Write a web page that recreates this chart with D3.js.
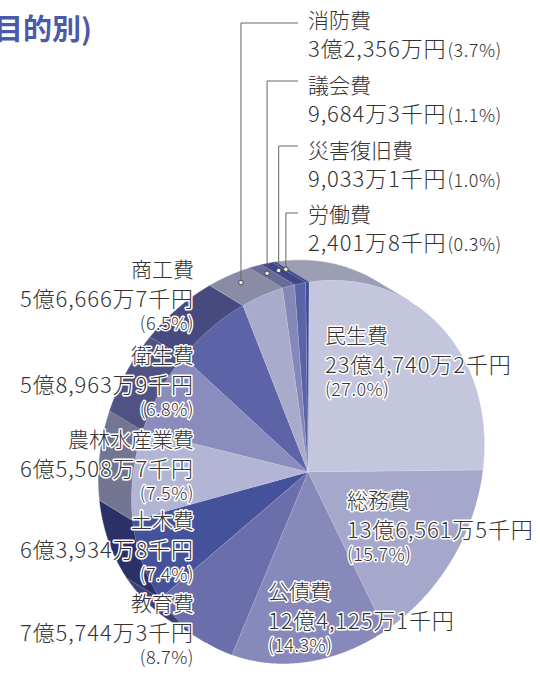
<!DOCTYPE html>
<html>
<head>
<meta charset="utf-8">
<script src="https://cdn.jsdelivr.net/npm/d3@7"></script>
<style>
  body { margin: 0; background: #fff; }
  text { font-family: "Noto Sans CJK JP", "Noto Sans", sans-serif; }
</style>
</head>
<body>
<div id="chart"></div>
<script>
const names = ["民生費", "総務費", "公債費", "教育費", "土木費", "農林水産業費", "衛生費", "商工費", "消防費", "議会費", "災害復旧費", "労働費"];
const amounts = ["23億4,740万2千円", "13億6,561万5千円", "12億4,125万1千円", "7億5,744万3千円", "6億3,934万8千円", "6億5,508万7千円", "5億8,963万9千円", "5億6,666万7千円", "3億2,356万円", "9,684万3千円", "9,033万1千円", "2,401万8千円"];
const shares = [27.0, 15.7, 14.3, 8.7, 7.4, 7.5, 6.8, 6.5, 3.7, 1.1, 1.0, 0.3];

let width = 540, height = 675;
// the disc is seen tilted: its face is an ellipse spanned by two axis vectors
let cx = 308, cy = 472,
    axA = [176.5, -26], // direction of 3 o'clock
    axB = [-1, 190],    // direction of 6 o'clock
    dx = -33, dy = -20; // depth of the disc, toward the back (upper left)

const faceColors = ["#c4c6dd", "#a5a8ca", "#8789bb", "#6a6eaa", "#44519b", "#b2b5d3", "#898cbd", "#5c63a6", "#a9abcb", "#8587b8", "#5a62a8", "#3d4a9a"];
const sideColors = ["#9c9eb4", "#7c7e9c", "#65678f", "#3c4072", "#2b3166", "#737591", "#4f5282", "#464a7f", "#8a8ca6", "#6a6c98", "#404687", "#34408c"];

// label layout: [mode, x, y of first baseline, leader y]
const layout = {
  "民生費": ["right", 325, 343],
  "総務費": ["right", 347, 508],
  "公債費": ["right", 268, 599],
  "教育費": ["left", 194, 611],
  "土木費": ["left", 194, 528],
  "農林水産業費": ["left", 194, 447],
  "衛生費": ["left", 194, 363],
  "商工費": ["left", 194, 277],
  "消防費": ["top", 308, 28, 23],
  "議会費": ["top", 308, 93, 81],
  "災害復旧費": ["top", 308, 158, 146],
  "労働費": ["top", 308, 222, 213]
};

const svg = d3.select("#chart")
  .append("svg")
  .attr("width", width)
  .attr("height", height);

let pie = d3.pie().sort(null).value(d => d.v).startAngle(0).endAngle(2 * Math.PI);
let data = names.map((n, i) => ({ name: n, amount: amounts[i], v: shares[i] }));
let arcs = pie(data);

let ex = a => cx + axA[0] * Math.sin(a) - axB[0] * Math.cos(a),
    ey = a => cy + axA[1] * Math.sin(a) - axB[1] * Math.cos(a);

// is the rim seen at this angle? (outward normal points toward the depth)
function rimVisible(a) {
  let tx = axA[0] * Math.cos(a) + axB[0] * Math.sin(a),
      ty = axA[1] * Math.cos(a) + axB[1] * Math.sin(a);
  let nx = ty, ny = -tx;
  if (nx * (ex(a) - cx) + ny * (ey(a) - cy) < 0) { nx = -nx; ny = -ny; }
  return nx * dx + ny * dy > 0;
}

function arcPoints(a0, a1) {
  let n = Math.max(2, Math.ceil((a1 - a0) / 0.005));
  return d3.range(n + 1).map(k => a0 + (a1 - a0) * k / n);
}

let line = d3.line();

function sidePath(a0, a1) {
  let pts = arcPoints(a0, a1).filter(rimVisible);
  if (pts.length < 2) return "";
  let front = pts.map(a => [ex(a), ey(a)]);
  let back = pts.slice().reverse().map(a => [ex(a) + dx, ey(a) + dy]);
  return line(front.concat(back)) + "Z";
}

// sides
svg.append("g")
  .selectAll("path")
  .data(arcs)
  .join("path")
  .attr("d", d => sidePath(d.startAngle, d.endAngle))
  .attr("fill", d => sideColors[d.index])
  .attr("stroke", d => sideColors[d.index])
  .attr("stroke-width", 0.5);

// edges between side facets
svg.append("g")
  .selectAll("line")
  .data(arcs.filter(d => rimVisible(d.startAngle)))
  .join("line")
  .attr("x1", d => ex(d.startAngle))
  .attr("y1", d => ey(d.startAngle))
  .attr("x2", d => ex(d.startAngle) + dx)
  .attr("y2", d => ey(d.startAngle) + dy)
  .attr("stroke", "#fff")
  .attr("stroke-opacity", 0.3)
  .attr("stroke-width", 0.8);

// faces
svg.append("g")
  .selectAll("path")
  .data(arcs)
  .join("path")
  .attr("d", d => line([[cx, cy]].concat(arcPoints(d.startAngle, d.endAngle).map(a => [ex(a), ey(a)]))) + "Z")
  .attr("fill", d => faceColors[d.index])
  .attr("stroke", "#fff")
  .attr("stroke-opacity", 0.2)
  .attr("stroke-width", 0.6);

// title (cut at the left edge)
svg.append("text")
  .attr("x", 92)
  .attr("y", 40)
  .attr("text-anchor", "end")
  .attr("font-size", 29)
  .attr("font-weight", 700)
  .attr("fill", "#4a5aa8")
  .text("目的別)");

let pct = v => "(" + v.toFixed(1) + "%)";

// leader lines for the thin slices
let smallArcs = arcs.filter(d => layout[d.data.name][0] === "top");
let dotX = d => ex((d.startAngle + d.endAngle) / 2) + dx * 0.65,
    dotY = d => ey((d.startAngle + d.endAngle) / 2) + dy * 0.65;

svg.append("g")
  .selectAll("path")
  .data(smallArcs)
  .join("path")
  .attr("d", d => {
    let L = layout[d.data.name];
    return `M${dotX(d)},${dotY(d)}V${L[3]}H${L[1] - 10}`;
  })
  .attr("fill", "none")
  .attr("stroke", "#666")
  .attr("stroke-width", 1);

svg.append("g")
  .selectAll("circle")
  .data(smallArcs)
  .join("circle")
  .attr("cx", dotX)
  .attr("cy", dotY)
  .attr("r", 2.3)
  .attr("fill", "#eee")
  .attr("stroke", "#444")
  .attr("stroke-width", 1);

// labels
let labels = svg.append("g")
  .attr("fill", "#333")
  .attr("font-weight", 300)
  .attr("stroke", "#fff")
  .attr("stroke-width", 3)
  .attr("stroke-linejoin", "round")
  .attr("paint-order", "stroke");

for (let d of arcs) {
  let [mode, x, y] = layout[d.data.name];
  let anchor = mode === "left" ? "end" : "start";
  let g = labels.append("g").attr("text-anchor", anchor);
  if (mode === "top") {
    g.attr("stroke", "none");
    g.append("text").attr("x", x).attr("y", y).attr("font-size", 21).text(d.data.name);
    let tx = g.append("text").attr("x", x).attr("y", y + 29).attr("font-size", 22).attr("letter-spacing", 0.9);
    tx.append("tspan").text(d.data.amount);
    tx.append("tspan").attr("font-size", 18).attr("letter-spacing", 0.5).attr("dx", 1).text(pct(d.data.v));
  } else {
    g.append("text").attr("x", x).attr("y", y).attr("font-size", 21).text(d.data.name);
    g.append("text").attr("x", x).attr("y", y + 30).attr("font-size", 22).attr("letter-spacing", 0.9).text(d.data.amount);
    g.append("text").attr("x", x).attr("y", y + 53).attr("font-size", 18).attr("letter-spacing", 0.5).text(pct(d.data.v));
  }
}
</script>
</body>
</html>
